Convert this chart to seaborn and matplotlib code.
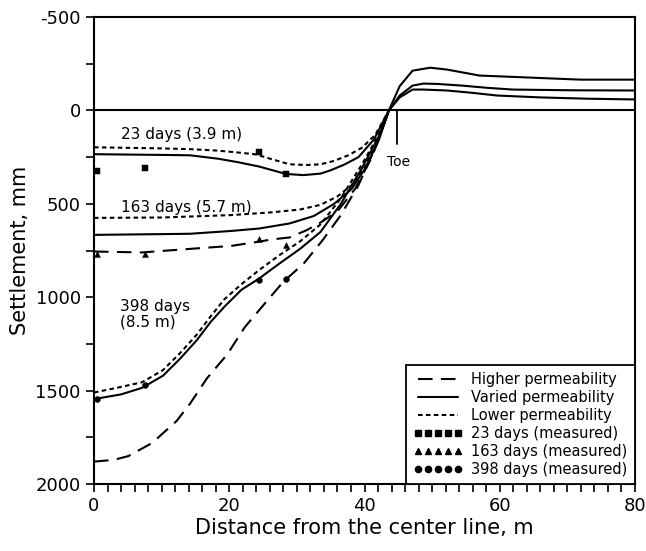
import numpy as np
import pandas as pd
import matplotlib.pyplot as plt
import seaborn as sns
from matplotlib.lines import Line2D

# ── digitised curves: distance from center line (m), settlement (mm) ─────────
# 23 days
x_23_low = [0, 5, 10, 14.2, 18.3, 21.3, 23.9, 26.4, 28.9, 31.5, 33.5, 35.5, 37.6, 39.6, 41.6, 43.6]
y_23_low = [197, 200, 203, 207, 215, 225, 235, 262, 288, 292, 288, 270, 240, 200, 130, 0]
x_23_var = [0, 5, 10.2, 14.2, 18.3, 21.3, 24.4, 26.4, 28.4, 31, 33.5, 35, 37, 39.1, 41.4, 43.6,
            45.2, 47.1, 48.7, 52.2, 55.8, 59.6, 66, 73, 80]
y_23_var = [234, 236, 238, 240, 258, 277, 300, 320, 340, 346, 338, 320, 290, 250, 155, 0,
            -70, -112, -112, -107, -95, -80, -70, -63, -59]

# 163 days
x_163_low = [0, 10, 20.3, 26.4, 30.5, 33.5, 36, 38.1, 40.1, 42.1, 43.6]
y_163_low = [575, 573, 560, 545, 530, 505, 460, 400, 300, 150, 0]
x_163_var = [0, 10, 14.2, 20.3, 24.4, 28.9, 32.5, 35.5, 38.1, 40.1, 42.1, 43.6,
             45.2, 47.1, 48.7, 50.8, 54.5, 57.9, 61.9, 71, 80]
y_163_var = [666, 662, 660, 645, 632, 605, 565, 500, 420, 310, 160, 0,
             -80, -133, -144, -142, -133, -122, -112, -108, -107]
x_163_high = [0, 7.1, 14.2, 20.3, 23.9, 26.4, 28.9, 31.5, 33.5, 36, 38.6, 41.1, 43.6]
y_163_high = [755, 760, 741, 725, 705, 690, 680, 640, 600, 540, 420, 250, 0]

# 398 days
x_398_low = [0, 4, 7.1, 10.2, 12.7, 15.2, 17.3, 19.3, 21.8, 24.4, 27.4, 30.5, 33.5, 36.5,
             39.6, 42.1, 43.6]
y_398_low = [1510, 1480, 1455, 1390, 1300, 1200, 1100, 1010, 930, 855, 775, 700, 610,
             470, 290, 130, 0]
x_398_var = [0, 4, 7.1, 10.2, 12.7, 15.2, 17.3, 19.3, 21.8, 24.4, 27.4, 30.5, 33.5, 36.5,
             39.6, 42.1, 43.6, 45.2, 47.1, 49.7, 52.2, 57, 64.5, 72, 80]
y_398_var = [1545, 1520, 1485, 1420, 1330, 1230, 1130, 1050, 960, 900, 820, 740, 650,
             500, 310, 140, 0, -130, -213, -229, -219, -187, -176, -165, -165]
x_398_high = [0, 3, 5.1, 8.6, 12.2, 14.2, 16.7, 19.7, 22.3, 25.1, 28, 31, 33.9, 36.5,
              39.1, 41.6, 43.6]
y_398_high = [1880, 1870, 1850, 1780, 1663, 1570, 1434, 1306, 1160, 1040, 917, 820, 690,
              560, 400, 200, 0]

# measured points
x_meas = [0.4, 7.5, 24.4, 28.4]
y_meas_23 = [324, 309, 223, 340]
y_meas_163 = [771, 766, 686, 718]
y_meas_398 = [1543, 1468, 910, 904]

# ── long table ───────────────────────────────────────────────────────────────
curves = [
    ('23 low', x_23_low, y_23_low, 'low'),
    ('23 var', x_23_var, y_23_var, 'var'),
    ('163 low', x_163_low, y_163_low, 'low'),
    ('163 var', x_163_var, y_163_var, 'var'),
    ('163 high', x_163_high, y_163_high, 'high'),
    ('398 low', x_398_low, y_398_low, 'low'),
    ('398 var', x_398_var, y_398_var, 'var'),
    ('398 high', x_398_high, y_398_high, 'high'),
]
df = pd.concat([pd.DataFrame({'dist': xs, 'settle': ys, 'curve': name, 'perm': perm})
                for name, xs, ys, perm in curves], ignore_index=True)

meas = pd.DataFrame({
    'dist': x_meas * 3,
    'settle': y_meas_23 + y_meas_163 + y_meas_398,
    'time': ['23'] * 4 + ['163'] * 4 + ['398'] * 4,
})

LS = {'low': (0, (2.2, 1.6)), 'var': '-', 'high': (0, (7, 4))}
MK = {'23': 's', '163': '^', '398': 'o'}

sns.set_style('ticks')
plt.rcParams['font.family'] = ['DejaVu Sans']
plt.rcParams['axes.unicode_minus'] = False
plt.rcParams['text.color'] = 'k'
plt.rcParams['axes.labelcolor'] = 'k'

fig = plt.figure(figsize=(6.46, 5.51), dpi=100)
ax = fig.add_axes([0.1455, 0.1215, 0.8375, 0.8475])

# ground line
ax.axhline(0, color='k', lw=1.5)

for name, sub in df.groupby('curve', sort=False):
    perm = sub['perm'].iloc[0]
    sns.lineplot(data=sub, x='dist', y='settle', ax=ax, color='k',
                 lw=1.5, linestyle=LS[perm], sort=False, legend=False)

for t, sub in meas.groupby('time', sort=False):
    sns.scatterplot(data=sub, x='dist', y='settle', ax=ax, color='k',
                    marker=MK[t], s=18, edgecolor='k', legend=False, zorder=5)

# toe marker
ax.plot([44.8, 44.8], [0, 180], color='k', lw=1.3)
ax.text(43.3, 275, 'Toe', fontsize=10, ha='left', va='center')

# curve labels
ax.text(4, 128, '23 days (3.9 m)', fontsize=11, va='center')
ax.text(4, 517, '163 days (5.7 m)', fontsize=11, va='center')
ax.text(3.8, 1090, '398 days\n(8.5 m)', fontsize=11, va='center', linespacing=1.05)

ax.set_xlim(0, 80)
ax.set_ylim(2000, -500)
ax.set_xticks([0, 20, 40, 60, 80])
ax.set_xticks(np.arange(0, 81, 2), minor=True)
ax.set_yticks([-500, 0, 500, 1000, 1500, 2000])
ax.set_yticks(np.arange(-500, 2001, 250), minor=True)
ax.tick_params(which='both', direction='out', length=6, width=1.2, colors='k',
               labelsize=13)
for s in ax.spines.values():
    s.set_linewidth(1.5)
    s.set_color('k')

ax.set_xlabel('Distance from the center line, m', fontsize=15, labelpad=2)
ax.set_ylabel('Settlement, mm', fontsize=15, labelpad=4)

handles = [
    Line2D([], [], color='k', lw=1.5, linestyle=LS['high']),
    Line2D([], [], color='k', lw=1.5, linestyle=LS['var']),
    Line2D([], [], color='k', lw=1.5, linestyle=LS['low']),
    Line2D([], [], color='k', linestyle='none', marker='s', markersize=4.5),
    Line2D([], [], color='k', linestyle='none', marker='^', markersize=4.5),
    Line2D([], [], color='k', linestyle='none', marker='o', markersize=4.5),
]
labels = ['Higher permeability', 'Varied permeability', 'Lower permeability',
          '23 days (measured)', '163 days (measured)', '398 days (measured)']
leg = ax.legend(handles, labels, loc='lower right', borderaxespad=0, fontsize=10.5,
                numpoints=5, handlelength=3.4, handletextpad=0.6, labelspacing=0.2,
                fancybox=False, framealpha=1, edgecolor='k', borderpad=0.5)
leg.get_frame().set_linewidth(1.3)

fig.savefig('out.png', dpi=100)
